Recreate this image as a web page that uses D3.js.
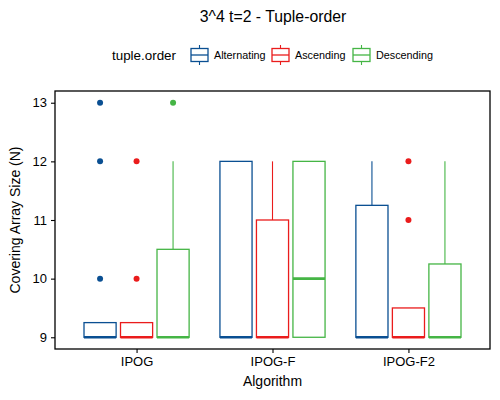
<!DOCTYPE html>
<html>
<head>
<meta charset="utf-8">
<script src="https://cdn.jsdelivr.net/npm/d3@7"></script>
<style>
  body { margin: 0; background: #fff; }
  text { font-family: "Liberation Sans", Arial, sans-serif; }
</style>
</head>
<body>
<svg width="500" height="400"></svg>
<script>
const algorithms = ["IPOG", "IPOG-F", "IPOG-F2"];
const orders = ["Alternating", "Ascending", "Descending"];
const colors = ["#0a4f92", "#ea1c1c", "#45b545"];

// box stats per algorithm, one value per tuple order
const lowerValues  = [[9, 9, 9],       [9, 9, 9],     [9, 9, 9]];
const q1Values     = [[9, 9, 9],       [9, 9, 9],     [9, 9, 9]];
const medianValues = [[9, 9, 9],       [9, 9, 10],    [9, 9, 9]];
const q3Values     = [[9.25, 9.25, 10.5], [12, 11, 12], [11.25, 9.5, 10.25]];
const upperValues  = [[9, 9, 12],      [12, 12, 12],  [12, 9, 12]];
const outlierValues = [[[10, 12, 13], [10, 12], [13]], [[], [], []], [[], [11, 12], []]];
const yTicks = [9, 10, 11, 12, 13];

const svg = d3.select("svg");
const mLeft = 55, mRight = 490, mTop = 91, mBottom = 349;

const x = d3.scalePoint().domain(algorithms).range([mLeft, mRight]).padding(0.6);
const xInner = d3.scaleBand().domain(orders).range([-54.75, 54.75]);
const y = d3.scaleLinear().domain([8.8, 13.2]).range([mBottom, mTop]);
const color = d3.scaleOrdinal().domain(orders).range(colors);
const boxW = xInner.bandwidth() * 0.88;

const boxes = [];
algorithms.forEach((a, i) => {
  orders.forEach((o, j) => {
    boxes.push({
      alg: a, order: o,
      lower: lowerValues[i][j], q1: q1Values[i][j], median: medianValues[i][j],
      q3: q3Values[i][j], upper: upperValues[i][j], outliers: outlierValues[i][j]
    });
  });
});

const g = svg.append("g");
const cx = d => x(d.alg) + xInner(d.order) + xInner.bandwidth() / 2;

// whiskers
g.selectAll("line.whisk-up").data(boxes).enter().append("line")
  .attr("x1", cx).attr("x2", cx)
  .attr("y1", d => y(d.q3)).attr("y2", d => y(Math.max(d.upper, d.q3)))
  .attr("stroke", d => color(d.order)).attr("stroke-width", 1.1);
g.selectAll("line.whisk-lo").data(boxes).enter().append("line")
  .attr("x1", cx).attr("x2", cx)
  .attr("y1", d => y(d.q1)).attr("y2", d => y(d.lower))
  .attr("stroke", d => color(d.order)).attr("stroke-width", 1.1);

g.selectAll("rect.box").data(boxes).enter().append("rect")
  .attr("x", d => cx(d) - boxW / 2).attr("width", boxW)
  .attr("y", d => y(d.q3)).attr("height", d => y(d.q1) - y(d.q3))
  .attr("fill", "#fff").attr("stroke", d => color(d.order)).attr("stroke-width", 1.3);

g.selectAll("line.median").data(boxes).enter().append("line")
  .attr("x1", d => cx(d) - boxW / 2).attr("x2", d => cx(d) + boxW / 2)
  .attr("y1", d => y(d.median)).attr("y2", d => y(d.median))
  .attr("stroke", d => color(d.order)).attr("stroke-width", 2.6);

const pts = boxes.flatMap(d => d.outliers.map(v => ({ ...d, v })));
g.selectAll("circle").data(pts).enter().append("circle")
  .attr("cx", cx).attr("cy", d => y(d.v)).attr("r", 3)
  .attr("fill", d => color(d.order));

// panel border
svg.append("rect").attr("x", mLeft).attr("y", mTop)
  .attr("width", mRight - mLeft).attr("height", mBottom - mTop)
  .attr("fill", "none").attr("stroke", "#000").attr("stroke-width", 1.3);

// axes
const xAxis = svg.append("g").attr("transform", `translate(0,${mBottom})`)
  .call(d3.axisBottom(x).tickSize(4).tickPadding(4));
const yAxis = svg.append("g").attr("transform", `translate(${mLeft},0)`)
  .call(d3.axisLeft(y).tickValues(yTicks).tickFormat(d3.format("d")).tickSize(4).tickPadding(4));
[xAxis, yAxis].forEach(ax => {
  ax.select(".domain").remove();
  ax.selectAll("line").attr("stroke", "#000").attr("stroke-width", 1.1);
  ax.selectAll("text").attr("fill", "#000").style("font-size", "13px")
    .style("font-family", "'Liberation Sans', Arial, sans-serif");
});

svg.append("text").attr("x", (mLeft + mRight) / 2).attr("y", 386)
  .attr("text-anchor", "middle").style("font-size", "14px").text("Algorithm");
svg.append("text").attr("transform", `translate(20,${(mTop + mBottom) / 2}) rotate(-90)`)
  .attr("text-anchor", "middle").style("font-size", "14px").text("Covering Array Size (N)");

svg.append("text").attr("x", 273).attr("y", 22)
  .attr("text-anchor", "middle").style("font-size", "15.8px").text("3^4 t=2 - Tuple-order");

// legend
const leg = svg.append("g");
leg.append("text").attr("x", 112).attr("y", 60).style("font-size", "13.4px").text("tuple.order");
const keyX = [190, 271, 352];
orders.forEach((o, i) => {
  const k = leg.append("g").attr("transform", `translate(${keyX[i]},0)`);
  const c = color(o);
  k.append("line").attr("x1", 9.5).attr("x2", 9.5).attr("y1", 45).attr("y2", 65)
    .attr("stroke", c).attr("stroke-width", 1.1);
  k.append("rect").attr("x", 1).attr("y", 48.5).attr("width", 17).attr("height", 13)
    .attr("fill", "#fff").attr("stroke", c).attr("stroke-width", 1.3);
  k.append("line").attr("x1", 1).attr("x2", 18).attr("y1", 55).attr("y2", 55)
    .attr("stroke", c).attr("stroke-width", 1.3);
  k.append("text").attr("x", 24).attr("y", 59).style("font-size", "10.8px").text(o);
});
</script>
</body>
</html>
